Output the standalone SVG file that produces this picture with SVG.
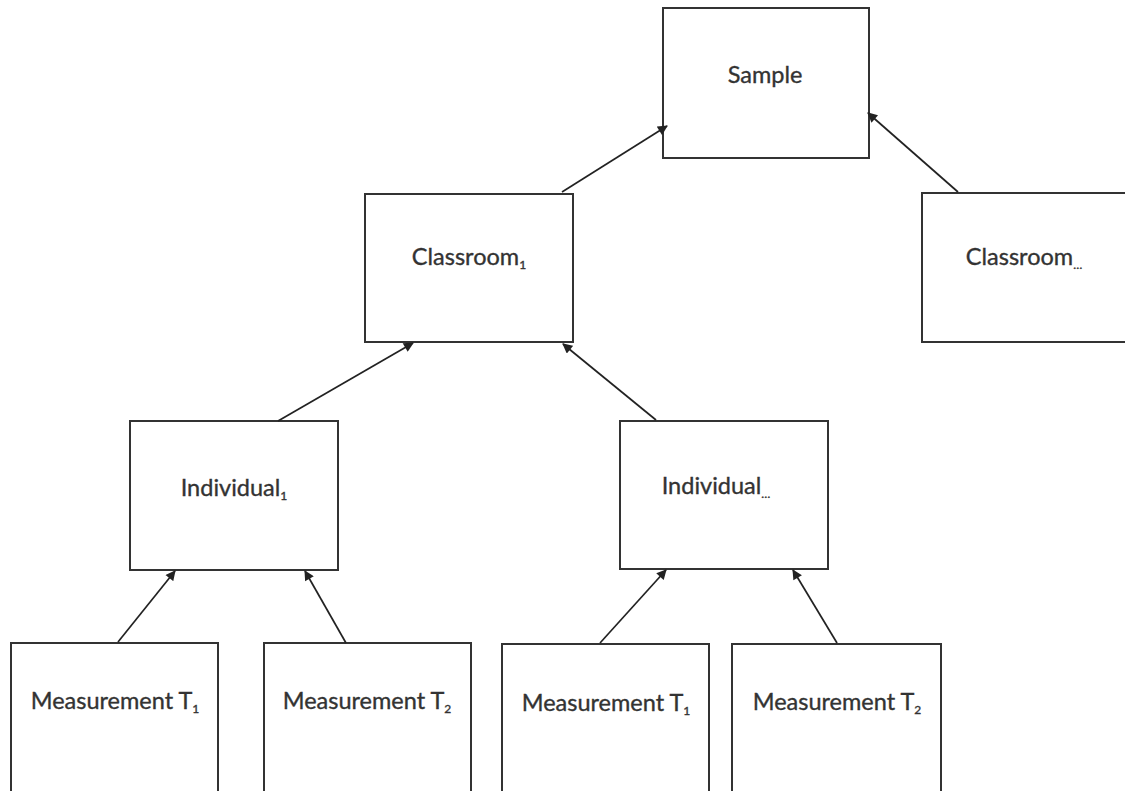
<svg xmlns="http://www.w3.org/2000/svg" width="1125" height="791" viewBox="0 0 1125 791">
<defs>
<style>
.box{fill:#fff;stroke:#333;stroke-width:2}
.lbl{font-family:Lato,"Open Sans",sans-serif;font-size:23.5px;fill:#333;stroke:#333;stroke-width:0.35;text-anchor:middle}
.sub{font-size:12px}
.con line{stroke:#222;stroke-width:1.7;marker-end:url(#ah)}
</style>
<marker id="ah" viewBox="0 0 10 10" refX="9" refY="5" markerWidth="11" markerHeight="10" orient="auto" markerUnits="userSpaceOnUse">
<path d="M0,0 L10,5 L0,10 z" fill="#222"/>
</marker>
</defs>
<rect width="1125" height="791" fill="#fff"/>
<g id="sample"><rect class="box" x="663" y="8" width="206" height="150"/><text class="lbl" x="765" y="83">Sample</text></g>
<g id="classroom1"><rect class="box" x="365" y="194" width="208" height="148"/><text class="lbl" x="469" y="265">Classroom<tspan class="sub" dy="4">1</tspan></text></g>
<g id="classroomN"><rect class="box" x="922" y="193" width="210" height="149"/><text class="lbl" x="1024" y="265">Classroom<tspan class="sub" dy="4">…</tspan></text></g>
<g id="individual1"><rect class="box" x="130" y="421" width="208" height="149"/><text class="lbl" x="234" y="496">Individual<tspan class="sub" dy="4">1</tspan></text></g>
<g id="individualN"><rect class="box" x="620" y="421" width="208" height="148"/><text class="lbl" x="716" y="494">Individual<tspan class="sub" dy="4">…</tspan></text></g>
<g id="m1"><rect class="box" x="11" y="643" width="207" height="160"/><text class="lbl" x="115" y="709">Measurement T<tspan class="sub" dy="4">1</tspan></text></g>
<g id="m2"><rect class="box" x="264" y="643" width="207" height="160"/><text class="lbl" x="367" y="709">Measurement T<tspan class="sub" dy="4">2</tspan></text></g>
<g id="m3"><rect class="box" x="502" y="644" width="207" height="160"/><text class="lbl" x="606" y="711">Measurement T<tspan class="sub" dy="4">1</tspan></text></g>
<g id="m4"><rect class="box" x="732" y="644" width="209" height="160"/><text class="lbl" x="837" y="710">Measurement T<tspan class="sub" dy="4">2</tspan></text></g>
<g id="connectors" class="con">
<line x1="562" y1="192" x2="667" y2="126"/>
<line x1="958" y1="192" x2="868" y2="113"/>
<line x1="278" y1="421" x2="413" y2="343"/>
<line x1="656" y1="420" x2="563" y2="344"/>
<line x1="118" y1="642" x2="175" y2="571"/>
<line x1="346" y1="643" x2="305" y2="571"/>
<line x1="600" y1="643" x2="666" y2="570"/>
<line x1="837" y1="643" x2="793" y2="570"/>
</g>
</svg>
